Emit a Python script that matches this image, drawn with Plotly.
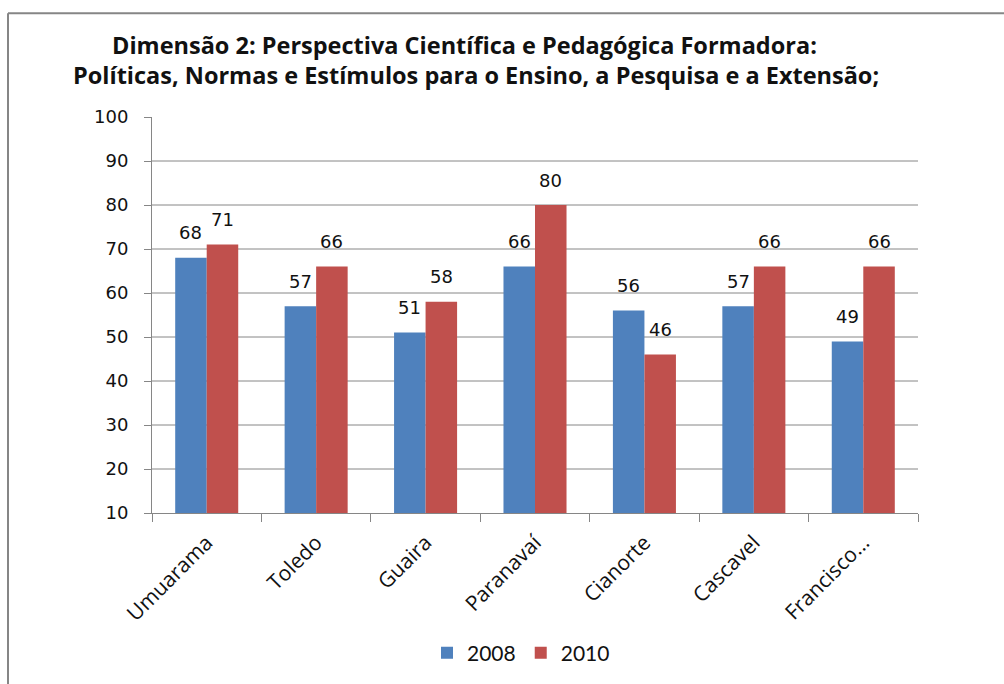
import plotly.graph_objects as go

categories = ["Umuarama", "Toledo", "Guaira", "Paranavaí", "Cianorte", "Cascavel", "Francisco..."]
values_2008 = [68, 57, 51, 66, 56, 57, 49]
values_2010 = [71, 66, 58, 80, 46, 66, 66]
series_names = ["2008", "2010"]
y_ticks = [10, 20, 30, 40, 50, 60, 70, 80, 90, 100]
title_line1 = "Dimensão 2: Perspectiva Científica e Pedagógica Formadora:"
title_line2 = "Políticas, Normas e Estímulos para o Ensino, a Pesquisa e a Extensão;"

BLUE = "#4F81BD"
RED = "#C0504D"
GRID = "#868686"

W, H = 1004, 684
ML, MR, MT, MB = 152, 86, 117, 170
PW = W - ML - MR
PH = H - MT - MB

def px_x(p):
    return (p - ML) / PW

def px_y(p):
    return (H - MB - p) / PH

fig = go.Figure()
fig.add_trace(go.Bar(x=categories, y=values_2008, name=series_names[0],
                     marker=dict(color=BLUE, line=dict(width=0))))
fig.add_trace(go.Bar(x=categories, y=values_2010, name=series_names[1],
                     marker=dict(color=RED, line=dict(width=0))))

label_font = dict(family="DejaVu Sans", size=18, color="#111111")
annotations = []
half = PW / len(categories) * (1 - 0.424) / 4
for cat, v in zip(categories, values_2008):
    annotations.append(dict(x=cat, y=v, xref="x", yref="y", text=str(v), showarrow=False,
                            xshift=-half, yshift=25, yanchor="middle", xanchor="center", font=label_font))
for cat, v in zip(categories, values_2010):
    annotations.append(dict(x=cat, y=v, xref="x", yref="y", text=str(v), showarrow=False,
                            xshift=half, yshift=25, yanchor="middle", xanchor="center", font=label_font))

title_font = dict(family="Open Sans", size=23.5, color="#111111")
annotations.append(dict(x=px_x(464), y=px_y(45), xref="paper", yref="paper", text="<b>" + title_line1 + "</b>",
                        showarrow=False, xanchor="center", yanchor="middle", font=title_font))
annotations.append(dict(x=px_x(476), y=px_y(75), xref="paper", yref="paper", text="<b>" + title_line2 + "</b>",
                        showarrow=False, xanchor="center", yanchor="middle", font=title_font))

shapes = []
for t in y_ticks[1:-1]:
    shapes.append(dict(type="line", xref="paper", yref="y", x0=0, x1=1, y0=t, y1=t,
                       line=dict(color=GRID, width=1), layer="below"))
# outer chart border (top and left visible)
shapes.append(dict(type="line", xref="paper", yref="paper", x0=px_x(8), x1=px_x(1010), y0=px_y(13), y1=px_y(13),
                   line=dict(color=GRID, width=2)))
shapes.append(dict(type="line", xref="paper", yref="paper", x0=px_x(8), x1=px_x(8), y0=px_y(13), y1=px_y(700),
                   line=dict(color=GRID, width=2)))

fig.update_layout(
    width=W, height=H,
    margin=dict(l=ML, r=MR, t=MT, b=MB),
    paper_bgcolor="white", plot_bgcolor="white",
    barmode="group", bargap=0.424, bargroupgap=0,
    showlegend=True,
    legend=dict(orientation="h", x=px_x(521), xanchor="center", y=px_y(653), yanchor="middle",
                font=dict(family="Lato", size=21, color="#111111"), itemwidth=30, traceorder="normal"),
    annotations=annotations,
    shapes=shapes,
)
fig.update_xaxes(showline=True, linecolor=GRID, linewidth=1, ticks="outside", tickson="boundaries",
                 ticklen=8, tickcolor=GRID, tickangle=-45, showgrid=False, ticklabelstandoff=8,
                 tickfont=dict(family="Open Sans", size=21, color="#111111"))
fig.update_yaxes(range=[10, 100], tickvals=y_ticks, showline=True, linecolor=GRID, linewidth=1,
                 ticks="outside", ticklen=7, tickcolor=GRID, showgrid=False, zeroline=False,
                 ticklabelstandoff=12,
                 tickfont=dict(family="DejaVu Sans", size=18, color="#111111"))

fig.write_html("out.html", config={"displayModeBar": False},
               post_script="document.body.style.margin='0';document.body.style.overflow='hidden';")
